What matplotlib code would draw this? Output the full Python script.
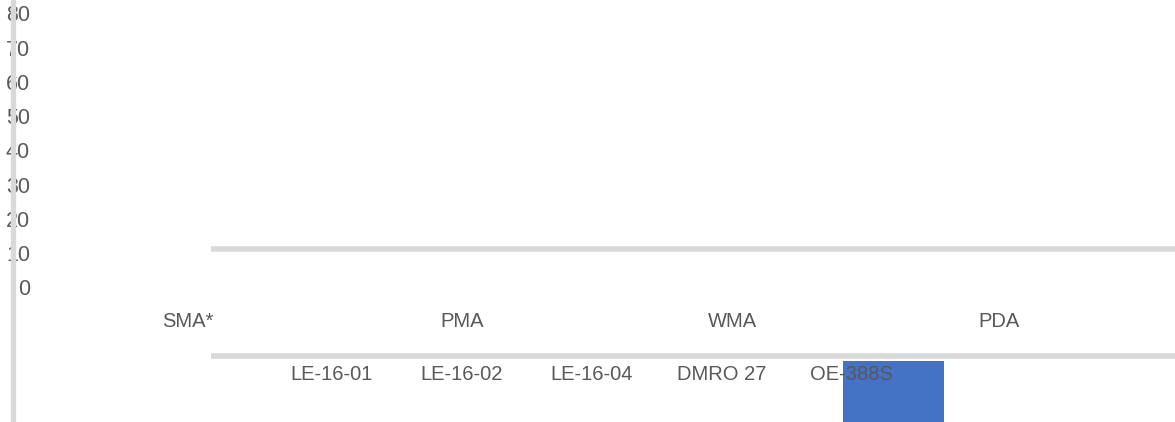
import matplotlib
matplotlib.use("Agg")
import matplotlib.pyplot as plt

# chart data
y_ticks = [0, 10, 20, 30, 40, 50, 60, 70, 80]
groups = ["SMA*", "PMA", "WMA", "PDA"]
group_pos = [-1.11, 1.0, 3.08, 5.13]
samples = ["LE-16-01", "LE-16-02", "LE-16-04", "DMRO 27", "OE-388S"]
bar_value = [-25]
bar_base = [-20.7]

TEXT = "#595959"
GRID = "#d9d9d9"
BLUE = "#4472c4"
FONT = "Liberation Sans"

fig = plt.figure(figsize=(11.75, 4.22), dpi=100)
ax = fig.add_axes([0, 0, 1, 1])
ax.set_xlim(-2.5515, 6.487)
ax.set_ylim(-38.54, 84.67)
ax.axis("off")

# broken axis lines
ax.axvline(-2.455, color=GRID, lw=3.8, zorder=3)
ax.hlines([12.1, -19.3], -0.928, 6.6, color=GRID, lw=4.0, zorder=1)

# value labels
for v in y_ticks:
    ax.text(-2.32, v, str(v), ha="right", va="center", fontsize=15.5,
            color=TEXT, family=FONT, zorder=2)

# group labels
for g, p in zip(groups, group_pos):
    ax.text(p, -9.34, g, ha="center", va="center", fontsize=14.5,
            color=TEXT, family=FONT, zorder=4)

# sample labels
for i, s in enumerate(samples):
    ax.text(i, -24.8, s, ha="center", va="center", fontsize=14.5,
            color=TEXT, family=FONT, zorder=4)

ax.bar([4.32], bar_value, bottom=bar_base, width=0.78, color=BLUE, zorder=2)

fig.savefig("out.png", dpi=100)
